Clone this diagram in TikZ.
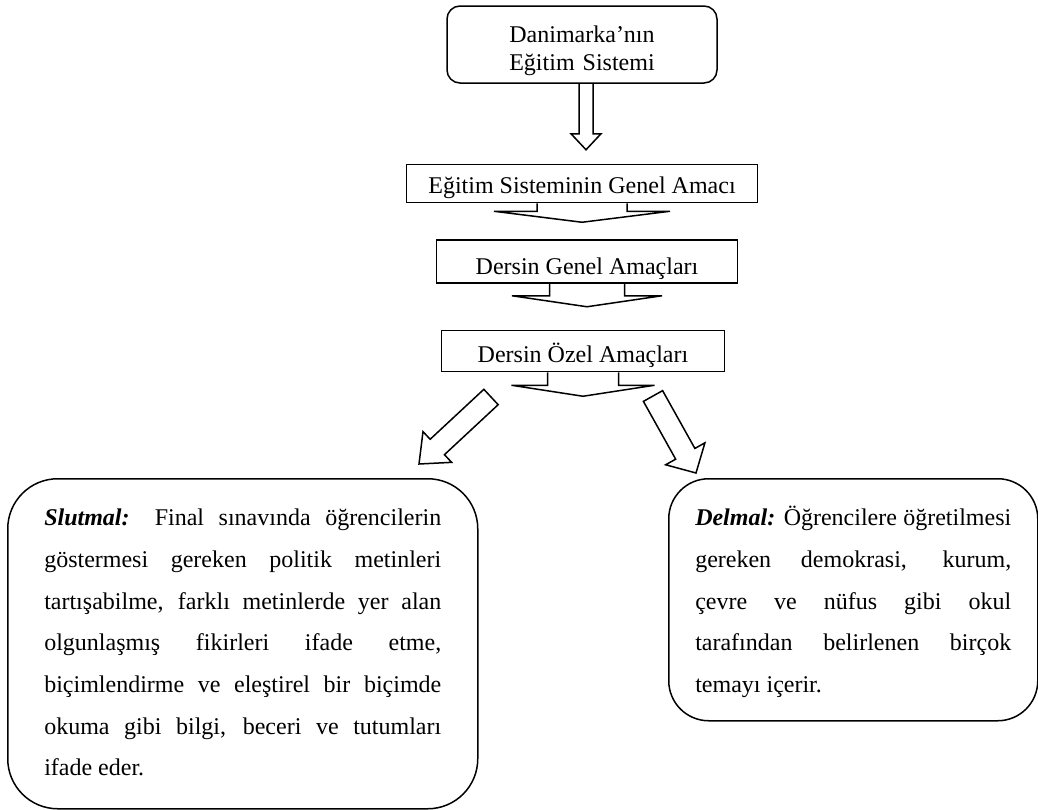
\documentclass[tikz,border=0pt]{standalone}
\usepackage{fontspec}
\setmainfont{Liberation Serif}
\usetikzlibrary{positioning, calc}
\hyphenpenalty=10000
\exhyphenpenalty=10000

\newcommand{\blockarrow}[6]{
	\coordinate (hb) at ($(#2)!#5!(#1)$);
	\draw[line width=1.5pt, line join=miter] ($(#1)!#3!90:(#2)$) -- ($(hb)!#3!90:(#2)$) -- ($(hb)!#4!90:(#2)$) -- (#2)
		-- ($(hb)!#4!-90:(#2)$) -- ($(hb)!#3!-90:(#2)$) -- ($(#1)!#3!-90:(#2)$) #6;
}

\begin{document}
\begin{tikzpicture}[x=1pt, y=-1pt,
		box/.style={draw, line width=1.5pt, inner sep=0pt, font=\fontsize{24pt}{28pt}\selectfont},
		title/.style={box, rounded corners=13pt, text width=270pt, align=center, text height=36pt, text depth=41pt},
		goal/.style={box, text height=#1, text depth=9pt},
		desc/.style={box, anchor=north west, align=justify, text height=47pt, font=\fontsize{24pt}{41.7pt}\selectfont\sloppy}]
			\useasboundingbox (0,0) rectangle (1038,809);
			
			\node[title] (b1) at (582,44.5) {Danimarka’nın\\Eğitim Sistemi};
			\node[goal=29pt, minimum width=351pt, below=80pt of b1] (b2) {Eğitim Sisteminin Genel Amacı};
			\node[goal=34pt, minimum width=301pt, below=36pt of b2, xshift=5pt] (b3) {Dersin Genel Amaçları};
			\node[goal=32pt, minimum width=283pt, below=46pt of b3, xshift=-4pt] (b4) {Dersin Özel Amaçları};
			
			\node[desc, rounded corners=50pt, text width=397pt, inner xsep=36.5pt, text depth=283pt] (slut) at (7,478) {\textbf{\textit{Slutmal:}} Final sınavında öğrencilerin\linebreak
				göstermesi gereken politik metinleri\linebreak
				tartışabilme, farklı metinlerde yer alan\linebreak
				olgunlaşmış fikirleri ifade etme,\linebreak
				biçimlendirme ve eleştirel bir biçimde\linebreak
				okuma gibi bilgi, beceri ve tutumları\linebreak
				ifade eder.};
			\node[desc, rounded corners=40pt, text width=316pt, inner xsep=26.5pt, text depth=195pt] (delm) at (668,478) {\textbf{\textit{Delmal:}} Öğrencilere öğretilmesi\linebreak
				gereken demokrasi, kurum,\linebreak
				çevre ve nüfus gibi okul\linebreak
				tarafından belirlenen birçok\linebreak
				temayı içerir.};
			
			\coordinate (a0) at ($(b1.south)+(4,0)$);
			\coordinate (t0) at ($(b1.south)+(4,66)$);
			\coordinate (t1) at ($(b2.south)+(0,19)$);
			\coordinate (t2) at ($(b3.south)+(0,23)$);
			\coordinate (t3) at ($(b4.south)+(0,24)$);
			\coordinate (la) at (491,397);
			\coordinate (lt) at (419,464);
			\coordinate (ra) at (653,396);
			\coordinate (rt) at (696,473);
			
			\blockarrow{a0}{t0}{7pt}{15pt}{16pt}{}
			\blockarrow{b2.south}{t1}{45pt}{88pt}{11pt}{}
			\blockarrow{b3.south}{t2}{37.5pt}{75pt}{11pt}{}
			\blockarrow{b4.south}{t3}{35.5pt}{71.5pt}{11pt}{}
			\blockarrow{la}{lt}{10.5pt}{21pt}{25pt}{-- cycle}
			\blockarrow{ra}{rt}{11pt}{22.5pt}{22pt}{-- cycle}
			
		\end{tikzpicture}
\end{document}
